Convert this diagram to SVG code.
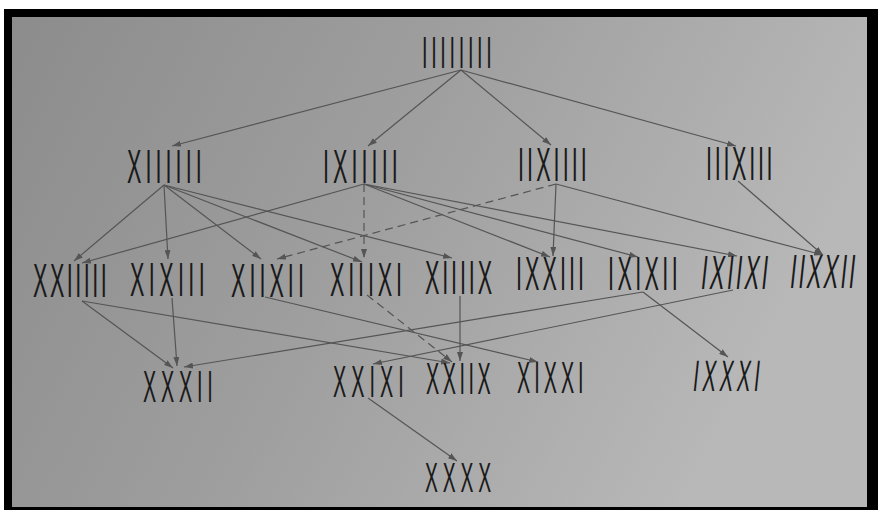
<svg xmlns="http://www.w3.org/2000/svg" width="878" height="510" viewBox="0 0 878 510">
<defs>
<linearGradient id="paper" x1="0" y1="0" x2="1" y2="0.3">
<stop offset="0" stop-color="#8c8c8c"/>
<stop offset="0.5" stop-color="#9f9f9f"/>
<stop offset="1" stop-color="#b8b8b8"/>
</linearGradient>
<marker id="ah" markerUnits="userSpaceOnUse" markerWidth="10" markerHeight="6" refX="9" refY="3" orient="auto">
<path d="M0,0 L9,3 L0,6 z" fill="#555"/>
</marker>
<style>
.lb{font-family:"Liberation Sans",Arial,sans-serif;fill:#1a1a1a;}
.r1{font-size:44px}
.r2{font-size:48px}
.r4{font-size:44px}
.r5{font-size:43px}
#edges line{stroke:#555;stroke-width:1.2;marker-end:url(#ah);fill:none}
#edges line.d{stroke-dasharray:8 5}
</style>
</defs>
<rect width="878" height="510" fill="#ffffff"/>
<rect x="4" y="9" width="874" height="501" fill="#000"/>
<rect x="12" y="17" width="855" height="490" fill="url(#paper)"/>

<g id="edges">
<line x1="461" y1="70" x2="172" y2="146"/>
<line x1="461" y1="70" x2="368" y2="146"/>
<line x1="461" y1="70" x2="551" y2="145"/>
<line x1="461" y1="70" x2="736" y2="146"/>

<line x1="164" y1="185" x2="74" y2="261"/>
<line x1="164" y1="185" x2="168" y2="259"/>
<line x1="164" y1="185" x2="261" y2="259"/>
<line x1="164" y1="185" x2="362" y2="262"/>
<line x1="164" y1="185" x2="452" y2="258"/>

<line x1="364" y1="184" x2="82" y2="263"/>
<line class="d" x1="364" y1="184" x2="364" y2="258"/>
<line x1="364" y1="184" x2="550" y2="257"/>
<line x1="364" y1="184" x2="638" y2="257"/>
<line x1="364" y1="184" x2="737" y2="256"/>

<line class="d" x1="556" y1="184" x2="277" y2="259"/>
<line x1="556" y1="184" x2="553" y2="256"/>
<line x1="556" y1="184" x2="823" y2="255"/>
<line x1="738" y1="181" x2="823" y2="255"/>

<line x1="82" y1="301" x2="173" y2="368"/>
<line x1="82" y1="301" x2="450" y2="363"/>
<line x1="172" y1="298" x2="177" y2="366"/>
<line x1="265" y1="297" x2="538" y2="362"/>
<line class="d" x1="367" y1="295" x2="452" y2="362"/>
<line x1="460" y1="296" x2="460" y2="361"/>
<line x1="643" y1="292" x2="184" y2="367"/>
<line x1="643" y1="292" x2="728" y2="357"/>
<line x1="733" y1="290" x2="373" y2="364"/>

<line x1="368" y1="398" x2="457" y2="461"/>
</g>

<g id="n0"><text class="lb r1" transform="translate(422,68) scale(0.45,1)" textLength="155" lengthAdjust="spacing">IIIIIIII</text></g>

<g id="n1"><text class="lb r2" transform="translate(127,183) scale(0.45,1)" textLength="166" lengthAdjust="spacing">XIIIIII</text></g>
<g id="n2"><text class="lb r2" transform="translate(323,183) scale(0.45,1)" textLength="166" lengthAdjust="spacing">IXIIIII</text></g>
<g id="n3"><text class="lb r2" transform="translate(518,181) scale(0.45,1)" textLength="153" lengthAdjust="spacing">IIXIIII</text></g>
<g id="n4"><text class="lb r2" transform="translate(706,180) scale(0.45,1)" textLength="148" lengthAdjust="spacing">IIIXIII</text></g>

<g id="n5"><text class="lb r2" transform="translate(33,297) scale(0.45,1)" textLength="164" lengthAdjust="spacing">XXIIIII</text></g>
<g id="n6"><text class="lb r2" transform="translate(130,296) scale(0.45,1)" textLength="166" lengthAdjust="spacing">XIXIII</text></g>
<g id="n7"><text class="lb r2" transform="translate(231,297) scale(0.45,1)" textLength="162" lengthAdjust="spacing">XIIXII</text></g>
<g id="n8"><text class="lb r2" transform="translate(330,296) scale(0.45,1)" textLength="160" lengthAdjust="spacing">XIIIXI</text></g>
<g id="n9"><text class="lb r2" transform="translate(425,294) scale(0.45,1)" textLength="149" lengthAdjust="spacing">XIIIIX</text></g>
<g id="n10"><text class="lb r2" transform="translate(516,290) scale(0.45,1)" textLength="151" lengthAdjust="spacing">IXXIII</text></g>
<g id="n11"><text class="lb r2" transform="translate(608,290) scale(0.45,1)" textLength="155" lengthAdjust="spacing">IXIXII</text></g>
<g id="n12"><text class="lb r2" transform="translate(700,289) skewX(-6) scale(0.45,1)" textLength="148" lengthAdjust="spacing">IXIIXI</text></g>
<g id="n13"><text class="lb r2" transform="translate(789,288) skewX(-6) scale(0.45,1)" textLength="144" lengthAdjust="spacing">IIXXII</text></g>

<g id="n14"><text class="lb r4" transform="translate(143,402) scale(0.45,1)" textLength="155" lengthAdjust="spacing">XXXII</text></g>
<g id="n15"><text class="lb r4" transform="translate(333,397) scale(0.45,1)" textLength="157" lengthAdjust="spacing">XXIXI</text></g>
<g id="n16"><text class="lb r4" transform="translate(426,394) scale(0.45,1)" textLength="144" lengthAdjust="spacing">XXIIX</text></g>
<g id="n17"><text class="lb r4" transform="translate(517,393) scale(0.45,1)" textLength="148" lengthAdjust="spacing">XIXXI</text></g>
<g id="n18"><text class="lb r4" transform="translate(692,391) skewX(-6) scale(0.45,1)" textLength="148" lengthAdjust="spacing">IXXXI</text></g>

<g id="n19"><text class="lb r5" transform="translate(425,492) scale(0.45,1)" textLength="147" lengthAdjust="spacing">XXXX</text></g>
</svg>
